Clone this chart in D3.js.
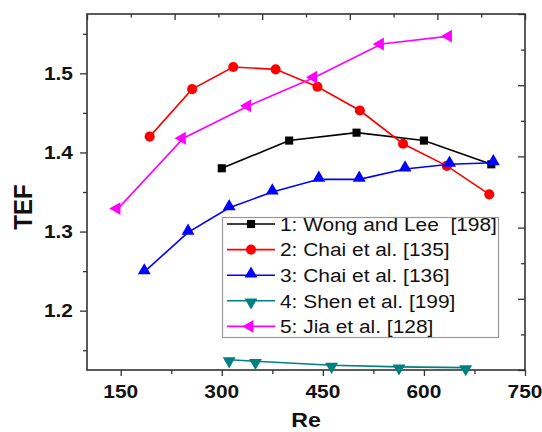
<!DOCTYPE html>
<html><head><meta charset="utf-8">
<script src="https://cdn.jsdelivr.net/npm/d3@7/dist/d3.min.js"></script>
<style>
html,body{margin:0;padding:0;background:#fff;}
svg text{font-family:"Liberation Sans",Arial,sans-serif;fill:#111;}
</style></head>
<body>
<svg id="chart" width="542" height="432"></svg>
<script>
// ---- data ----
const xTickValues = [150, 300, 450, 600, 750];
const xMinorTicks = [225, 375, 525, 675];
const yTickValues = [1.2, 1.3, 1.4, 1.5];
const yMinorTicks = [1.15, 1.25, 1.35, 1.45, 1.55];
const auxMajor = [0, 1, 2, 3, 4, 5];
const auxMinor = [0.5, 1.5, 2.5, 3.5, 4.5];

const seriesNames = ["1: Wong and Lee  [198]", "2: Chai et al. [135]", "3: Chai et al. [136]", "4: Shen et al. [199]", "5: Jia et al. [128]"];
const seriesColors = ["#000000", "#ff0000", "#0000ff", "#008080", "#ff00ff"];
const seriesSymbols = ["square", "circle", "up", "down", "left"];

const re1 = [300, 400, 500, 600, 700];
const tef1 = [1.380, 1.415, 1.425, 1.415, 1.385];
const re2 = [193, 256, 317, 380, 442, 505, 569, 634, 697];
const tef2 = [1.420, 1.480, 1.508, 1.505, 1.483, 1.453, 1.411, 1.383, 1.347];
const re3 = [185, 250, 311, 375, 444, 504, 572, 638, 703];
const tef3 = [1.249, 1.299, 1.330, 1.350, 1.366, 1.366, 1.379, 1.385, 1.387];
const re4 = [311, 350, 463, 563, 662];
const tef4 = [1.138, 1.136, 1.131, 1.129, 1.128];
const re5 = [146, 243, 340, 438, 537, 638];
const tef5 = [1.329, 1.418, 1.459, 1.495, 1.537, 1.547];

const allRe = [re1, re2, re3, re4, re5];
const allTef = [tef1, tef2, tef3, tef4, tef5];

// ---- layout ----
const L = 87, R = 525, T = 14, B = 370;
const svg = d3.select("#chart");
const x = d3.scaleLinear().domain([100, 750]).range([L, R]);
const y = d3.scaleLinear().domain([1.125, 1.575]).range([B, T]);
const xTop = d3.scaleLinear().domain([0, 5]).range([L, R]);
const yRight = d3.scaleLinear().domain([0, 5]).range([B, T]);

const axisColor = "#333";
const sx = 1.1; // horizontal stretch of glyphs in reference

function styleAxis(g) {
  g.select(".domain").remove();
  g.selectAll("line").attr("stroke", axisColor).attr("stroke-width", 1.3);
}
// bottom
svg.append("g").attr("transform", `translate(0,${B})`)
  .call(d3.axisBottom(x).tickValues(xTickValues).tickSize(6).tickFormat(""))
  .call(styleAxis);
svg.append("g").attr("transform", `translate(0,${B})`)
  .call(d3.axisBottom(x).tickValues(xMinorTicks).tickSize(4).tickFormat(""))
  .call(styleAxis);
// left
svg.append("g").attr("transform", `translate(${L},0)`)
  .call(d3.axisLeft(y).tickValues(yTickValues).tickSize(7).tickFormat(""))
  .call(styleAxis);
svg.append("g").attr("transform", `translate(${L},0)`)
  .call(d3.axisLeft(y).tickValues(yMinorTicks).tickSize(4).tickFormat(""))
  .call(styleAxis);
// top (inward)
svg.append("g").attr("transform", `translate(0,${T})`)
  .call(d3.axisBottom(xTop).tickValues(auxMajor).tickSize(6).tickFormat(""))
  .call(styleAxis);
svg.append("g").attr("transform", `translate(0,${T})`)
  .call(d3.axisBottom(xTop).tickValues(auxMinor).tickSize(3.5).tickFormat(""))
  .call(styleAxis);
// right (inward)
svg.append("g").attr("transform", `translate(${R},0)`)
  .call(d3.axisLeft(yRight).tickValues(auxMajor).tickSize(7).tickFormat(""))
  .call(styleAxis);
svg.append("g").attr("transform", `translate(${R},0)`)
  .call(d3.axisLeft(yRight).tickValues(auxMinor).tickSize(4).tickFormat(""))
  .call(styleAxis);

svg.append("rect").attr("x", L).attr("y", T).attr("width", R - L).attr("height", B - T)
  .attr("fill", "none").attr("stroke", axisColor).attr("stroke-width", 1.6);

// tick labels
xTickValues.forEach(v => {
  svg.append("text")
    .attr("transform", `translate(${x(v)},398) scale(${sx},1)`)
    .attr("text-anchor", "middle").attr("font-size", 19).attr("font-weight", "bold")
    .text(v);
});
yTickValues.forEach(v => {
  svg.append("text")
    .attr("transform", `translate(73,${y(v) + 6.8}) scale(${sx},1)`)
    .attr("text-anchor", "end").attr("font-size", 19).attr("font-weight", "bold")
    .text(d3.format(".1f")(v));
});

// axis titles
svg.append("text")
  .attr("transform", `translate(${(L + R) / 2},427) scale(${sx},1)`)
  .attr("text-anchor", "middle").attr("font-size", 21).attr("font-weight", "bold")
  .text("Re");
svg.append("text")
  .attr("transform", `translate(31.5,207) scale(${sx},1) rotate(-90)`)
  .attr("text-anchor", "middle").attr("font-size", 24).attr("font-weight", "bold")
  .text("TEF");

// symbols
function symbolPath(kind) {
  if (kind === "square") return d3.symbol(d3.symbolSquare, 66)();
  if (kind === "circle") return d3.symbol(d3.symbolCircle, 80)();
  return d3.symbol(d3.symbolTriangle, 72)();
}
function symbolRot(kind) {
  if (kind === "down") return 180;
  if (kind === "left") return -90;
  return 0;
}
function symbolOffset(kind) {
  if (kind === "up") return [0, -1.3];
  if (kind === "down") return [0, 1.3];
  if (kind === "left") return [-1.3, 0];
  return [0, 0];
}

const line = d3.line().x(d => x(d[0])).y(d => y(d[1]));

allRe.forEach((re, i) => {
  const pts = re.map((r, j) => [r, allTef[i][j]]);
  const g = svg.append("g");
  g.append("path").datum(pts).attr("d", line).attr("fill", "none")
    .attr("stroke", seriesColors[i]).attr("stroke-width", 1.6);
  const kind = seriesSymbols[i];
  const off = symbolOffset(kind);
  g.selectAll("path.m").data(pts).enter().append("path").attr("class", "m")
    .attr("d", symbolPath(kind))
    .attr("transform", d => `translate(${x(d[0]) + off[0]},${y(d[1]) + off[1]}) rotate(${symbolRot(kind)})`)
    .attr("fill", seriesColors[i]);
});

// legend
const lg = svg.append("g");
lg.append("rect").attr("x", 222.5).attr("y", 217.5).attr("width", 276).attr("height", 120)
  .attr("fill", "#fff").attr("stroke", "#999").attr("stroke-width", 1.2);
seriesNames.forEach((name, i) => {
  const yy = 224 + i * 25.6;
  lg.append("line").attr("x1", 227).attr("x2", 275).attr("y1", yy).attr("y2", yy)
    .attr("stroke", seriesColors[i]).attr("stroke-width", 1.6);
  const kind = seriesSymbols[i];
  const off = symbolOffset(kind);
  lg.append("path").attr("d", symbolPath(kind))
    .attr("transform", `translate(${251 + off[0]},${yy + off[1]}) rotate(${symbolRot(kind)})`)
    .attr("fill", seriesColors[i]);
  lg.append("text")
    .attr("transform", `translate(280,${yy + 6.8}) scale(${sx},1)`)
    .attr("font-size", 19)
    .style("white-space", "pre")
    .text(name);
});
</script>
</body></html>
